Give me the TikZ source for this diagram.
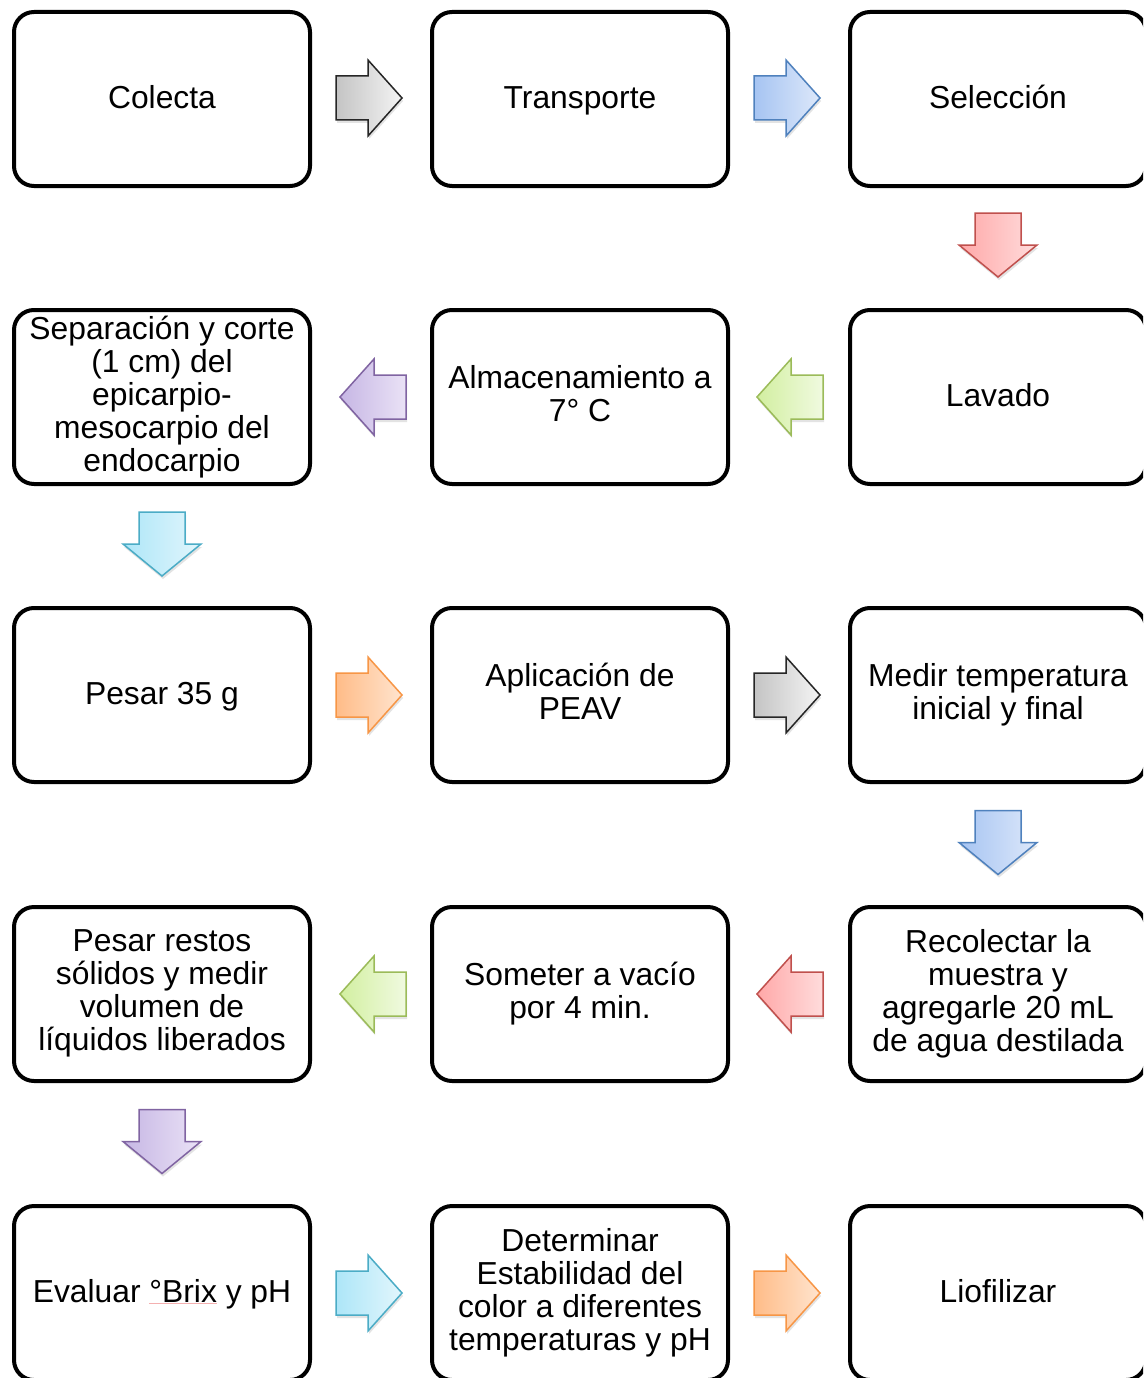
\documentclass[tikz,border=0pt]{standalone}
\usepackage{fontspec}
\setmainfont{Liberation Sans}
\usetikzlibrary{shadows,calc}
\definecolor{gL}{HTML}{C4C4C4}\definecolor{gR}{HTML}{F4F4F4}\definecolor{gD}{HTML}{262626}
\definecolor{bL}{HTML}{A6C4F2}\definecolor{bR}{HTML}{DDE8FA}\definecolor{bD}{HTML}{4F81BD}
\definecolor{rL}{HTML}{FFA8A8}\definecolor{rR}{HTML}{FFDCDC}\definecolor{rD}{HTML}{C0504D}
\definecolor{nL}{HTML}{D2EFA0}\definecolor{nR}{HTML}{F0FAE0}\definecolor{nD}{HTML}{9BBB59}
\definecolor{pL}{HTML}{C6B6E4}\definecolor{pR}{HTML}{EAE2F6}\definecolor{pD}{HTML}{8064A2}
\definecolor{cL}{HTML}{ADE6F8}\definecolor{cR}{HTML}{E2F6FC}\definecolor{cD}{HTML}{4BACC6}
\definecolor{oL}{HTML}{FFBC88}\definecolor{oR}{HTML}{FFE4CE}\definecolor{oD}{HTML}{F79646}
\definecolor{uline}{HTML}{F4B0B0}
\newcommand\lnstrut{\rule[-7.1pt]{0pt}{33pt}}
\begin{document}
\begin{tikzpicture}[x=1pt,y=-1pt,
  box/.style={draw=black, line width=4pt, rounded corners=20pt,
    minimum width=296pt, minimum height=174pt, inner sep=2pt, align=center,
    font=\fontsize{31.8}{33}\selectfont, fill=white,
    execute at begin node=\lnstrut, execute at end node=\lnstrut},
  barrow/.style={line width=1.5pt, line join=miter,
    drop shadow={opacity=0.22, shadow xshift=1pt, shadow yshift=-3pt}},
  rarr/.pic={\path[barrow, #1] (-33,-22) -- (-1,-22) -- (-1,-38) -- (33,0)
      -- (-1,38) -- (-1,22) -- (-33,22) -- cycle;},
  larr/.pic={\path[barrow, #1] (33,-22) -- (1,-22) -- (1,-38) -- (-33,0)
      -- (1,38) -- (1,22) -- (33,22) -- cycle;},
  darr/.pic={\path[barrow, #1] (-23,-32) -- (-23,0) -- (-39,0) -- (0,32)
      -- (39,0) -- (23,0) -- (23,-32) -- cycle;},
  agray/.style={left color=gL, right color=gR, draw=gD},
  ablue/.style={left color=bL, right color=bR, draw=bD},
  ared/.style={left color=rL, right color=rR, draw=rD},
  agreen/.style={left color=nL, right color=nR, draw=nD},
  apurple/.style={left color=pL, right color=pR, draw=pD},
  acyan/.style={left color=cL, right color=cR, draw=cD},
  aorange/.style={left color=oL, right color=oR, draw=oD}]
\clip (0,0) rectangle (1143,1378);
\fill[white] (0,0) rectangle (1143,1378);
% boxes
\node[box] (b11) at (162,99) {Colecta};
\node[box] (b12) at (580,99) {Transporte};
\node[box] (b13) at (998,99) {Selección};
\node[box] (b21) at (162,397) {Separación y corte\\(1 cm) del\\epicarpio-\\mesocarpio del\\endocarpio};
\node[box] (b22) at (580,397) {Almacenamiento a\\7° C};
\node[box] (b23) at (998,397) {Lavado};
\node[box] (b31) at (162,695) {Pesar 35 g};
\node[box] (b32) at (580,695) {Aplicación de\\PEAV};
\node[box] (b33) at (998,695) {Medir temperatura\\inicial y final};
\node[box] (b41) at (162,994) {Pesar restos\\sólidos y medir\\volumen de\\líquidos liberados};
\node[box] (b42) at (580,994) {Someter a vacío\\por 4 min.};
\node[box] (b43) at (998,994) {Recolectar la\\muestra y\\agregarle 20 mL\\de agua destilada};
\node[box] (b51) at (162,1293) {Evaluar °Brix y pH};
\node[box] (b52) at (580,1293) {Determinar\\Estabilidad del\\color a diferentes\\temperaturas y pH};
\node[box] (b53) at (998,1293) {Liofilizar};
% arrow positions between the boxes
\coordinate (a1) at ($(b11.east)!0.5!(b12.west)+(-2,-1)$);
\coordinate (a2) at ($(b12.east)!0.5!(b13.west)+(-2,-1)$);
\coordinate (a3) at ($(b13.south)!0.5!(b23.north)+(0,-3)$);
\coordinate (a4) at ($(b23.west)!0.5!(b22.east)+(1,0)$);
\coordinate (a5) at ($(b22.west)!0.5!(b21.east)+(2,0)$);
\coordinate (a6) at ($(b21.south)!0.5!(b31.north)+(0,-2)$);
\coordinate (a7) at ($(b31.east)!0.5!(b32.west)+(-2,0)$);
\coordinate (a8) at ($(b32.east)!0.5!(b33.west)+(-2,0)$);
\coordinate (a9) at ($(b33.south)!0.5!(b43.north)+(0,-2)$);
\coordinate (a10) at ($(b43.west)!0.5!(b42.east)+(1,0)$);
\coordinate (a11) at ($(b42.west)!0.5!(b41.east)+(2,0)$);
\coordinate (a12) at ($(b41.south)!0.5!(b51.north)+(0,-2)$);
\coordinate (a13) at ($(b51.east)!0.5!(b52.west)+(-2,0)$);
\coordinate (a14) at ($(b52.east)!0.5!(b53.west)+(-2,0)$);
\pic at (a1) {rarr=agray};
\pic at (a2) {rarr=ablue};
\pic at (a3) {darr=ared};
\pic at (a4) {larr=agreen};
\pic at (a5) {larr=apurple};
\pic at (a6) {darr=acyan};
\pic at (a7) {rarr=aorange};
\pic at (a8) {rarr=agray};
\pic at (a9) {darr=ablue};
\pic at (a10) {larr=ared};
\pic at (a11) {larr=agreen};
\pic at (a12) {darr=apurple};
\pic at (a13) {rarr=acyan};
\pic at (a14) {rarr=aorange};
% spell-check underline under the word Brix
\coordinate (u1) at (149,1303);
\coordinate (u2) at (217,1303);
\draw[uline, line width=1pt] (u1) -- (u2);
\end{tikzpicture}
\end{document}
